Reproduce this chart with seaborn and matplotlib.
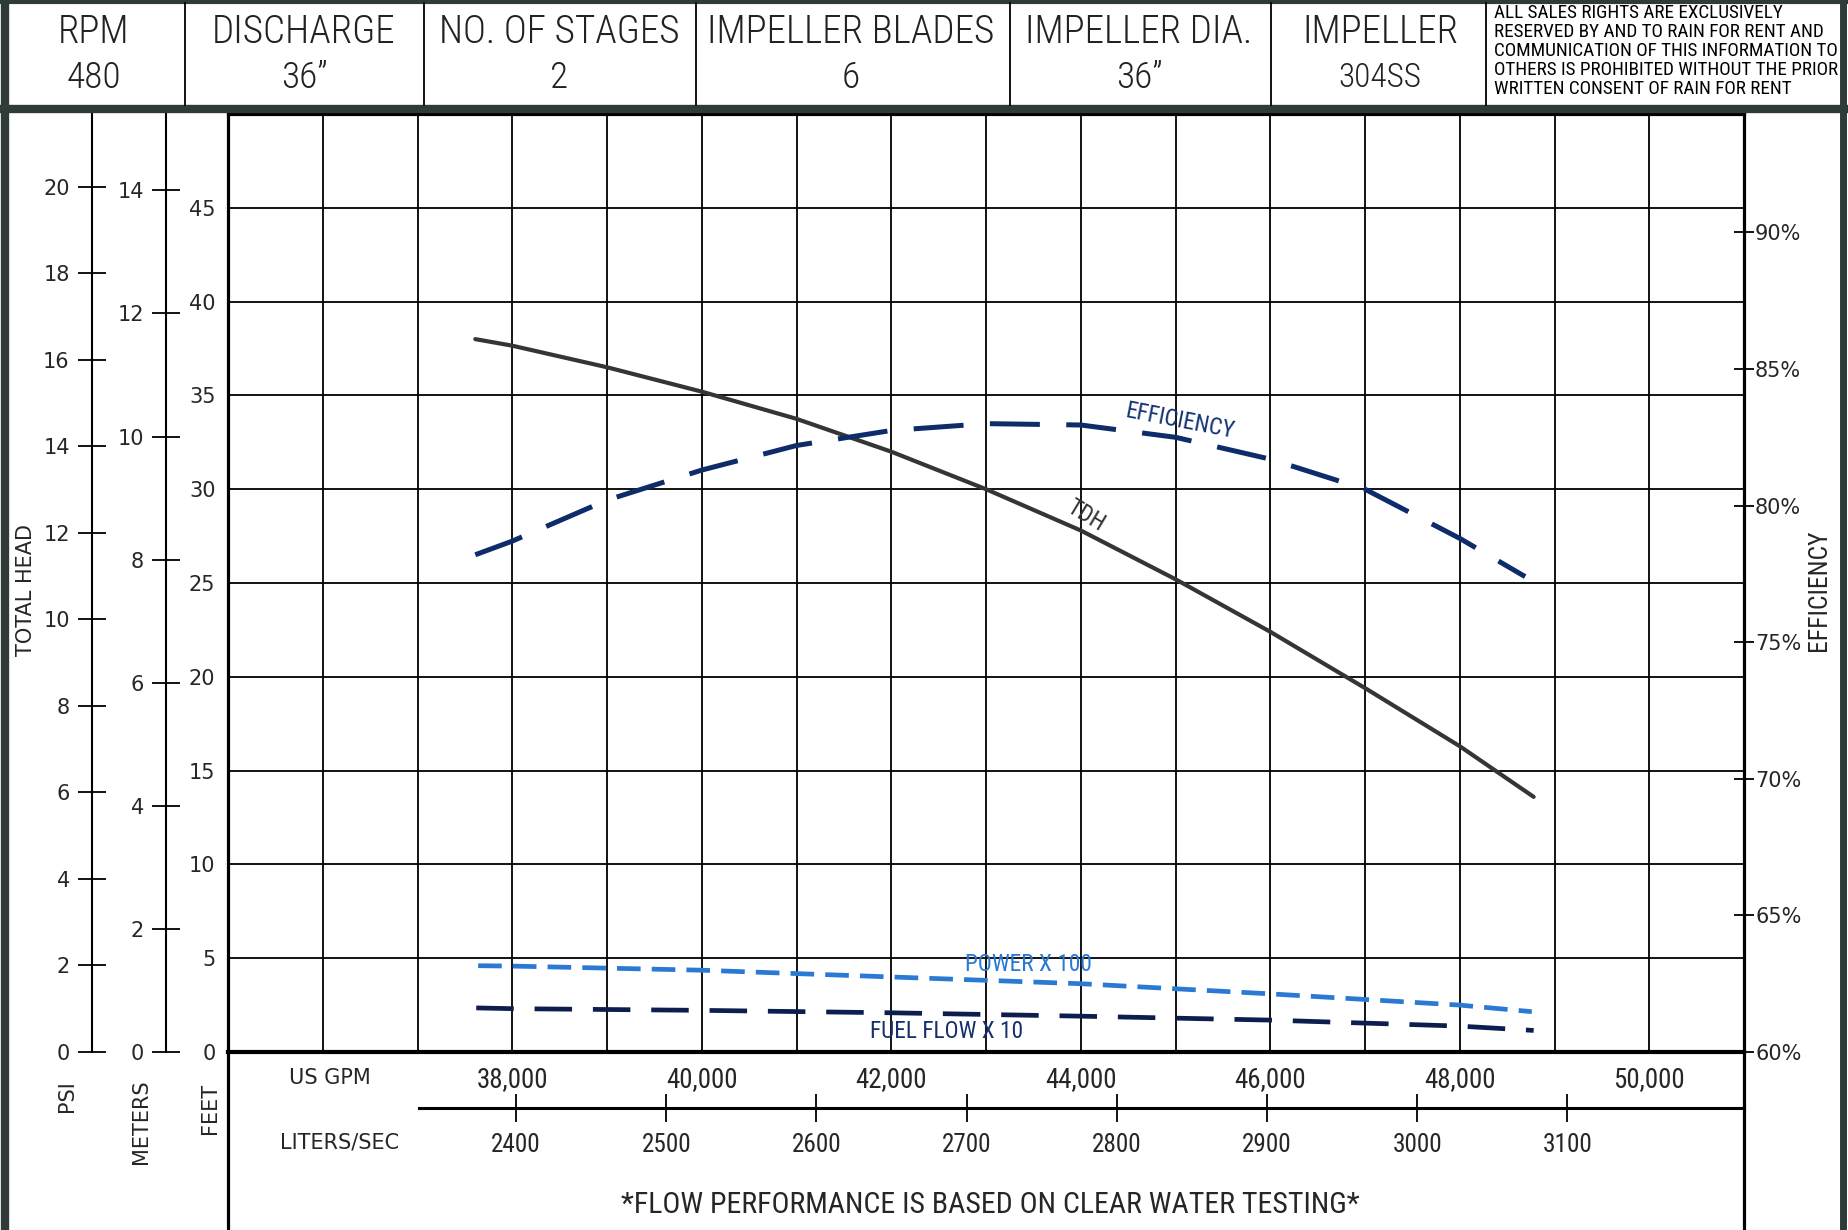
import numpy as np
import pandas as pd
import matplotlib
matplotlib.use("Agg")
import matplotlib.pyplot as plt
from matplotlib import font_manager
from matplotlib.font_manager import FontProperties
from matplotlib.lines import Line2D
import seaborn as sns

W, H = 1849, 1230

# --- header block ---
header_titles = ["RPM", "DISCHARGE", "NO. OF STAGES", "IMPELLER BLADES", "IMPELLER DIA.", "IMPELLER"]
header_values = ["480", "36\u201d", "2", "6", "36\u201d", "304SS"]
notice_lines = [
    "ALL SALES RIGHTS ARE EXCLUSIVELY",
    "RESERVED BY AND TO RAIN FOR RENT AND",
    "COMMUNICATION OF THIS INFORMATION TO",
    "OTHERS IS PROHIBITED WITHOUT THE PRIOR",
    "WRITTEN CONSENT OF RAIN FOR RENT",
]

# --- axes ---
gpm_labels = [38000, 40000, 42000, 44000, 46000, 48000, 50000]
lps_labels = [2400, 2500, 2600, 2700, 2800, 2900, 3000, 3100]
feet_ticks = [0, 5, 10, 15, 20, 25, 30, 35, 40, 45]
psi_ticks = [0, 2, 4, 6, 8, 10, 12, 14, 16, 18, 20]
meter_ticks = [0, 2, 4, 6, 8, 10, 12, 14]
eff_ticks = [60, 65, 70, 75, 80, 85, 90]

GPM_PER_LPS = 15.8503
FT_PER_PSI = 2.3067
FT_PER_M = 3.2808
FT_PER_EFF = 1.4563   # 1 % of the efficiency scale, in feet of chart height

# --- curves ---
tdh_gpm = [37610, 38000, 39000, 40000, 41000, 42000, 43000, 44000, 45000, 46000, 47000, 48000, 48780]
tdh_ft = [38.0, 37.65, 36.5, 35.2, 33.75, 32.0, 30.0, 27.8, 25.2, 22.4, 19.4, 16.3, 13.6]

eff_gpm = [37610, 38000, 39000, 40000, 41000, 42000, 43000, 44000, 45000, 46000, 47000, 48000, 48690]
eff_pct = [78.2, 78.7, 80.2, 81.3, 82.2, 82.75, 83.0, 82.95, 82.5, 81.7, 80.6, 78.8, 77.4]

power_gpm = [37640, 38000, 40000, 42000, 44000, 46000, 48000, 48760]
power_hp = [460, 458, 436, 400, 364, 310, 250, 215]

fuel_gpm = [37620, 38000, 40000, 42000, 44000, 46000, 48000, 48780]
fuel_gph = [23.5, 23.1, 22.2, 20.9, 19.1, 17.0, 13.8, 11.5]

sns.set_theme(style="white")
plt.rcParams["lines.scale_dashes"] = False
plt.rcParams["font.family"] = ["DejaVu Sans"]


def weight_num(w):
    if isinstance(w, (int, float)):
        return w
    return font_manager.weight_dict.get(w, 400)


def is_condensed(f):
    st = f.stretch
    if "Narrow" in f.name or "Condensed" in f.name:
        return True
    if isinstance(st, str):
        return "condensed" in st
    return st < 500


def pick_font(families, weight=400):
    for fam in families:
        c = [f for f in font_manager.fontManager.ttflist
             if f.name == fam and f.style == "normal" and is_condensed(f)]
        if c:
            c.sort(key=lambda f: abs(weight_num(f.weight) - weight))
            return FontProperties(fname=c[0].fname)
    return FontProperties(family="Liberation Sans")


cond_families = ["Liberation Sans Narrow", "Roboto Condensed", "Noto Sans", "Open Sans",
                 "DejaVu Sans", "Noto Sans Display"]
NARROW = pick_font(cond_families, 400)
THIN = pick_font(cond_families, 300)

fig = plt.figure(figsize=(W / 100, H / 100), dpi=100)
fig.patch.set_facecolor("white")
renderer = fig.canvas.get_renderer()


def fx(x):
    return x / W


def fy(y):
    return 1 - y / H


def fp_size(fp, size):
    p = fp.copy()
    p.set_size(size)
    return p


def width_of(s, fp):
    t = fig.text(0, 0, s, fontproperties=fp)
    w = t.get_window_extent(renderer).width
    t.remove()
    return w


def fit(strings, fp, target, base=20.0):
    total = sum(width_of(s, fp_size(fp, base)) for s in strings)
    return base * target / total


def fline(x1, y1, x2, y2, lw, color="black"):
    fig.add_artist(Line2D([fx(x1), fx(x2)], [fy(y1), fy(y2)], transform=fig.transFigure,
                          lw=lw, color=color, solid_capstyle="butt"))


# font sizes fitted to the widths seen in the reference (pixels)
s_head = fit(header_titles, THIN, 1172)
s_notice = fit(["RESERVED BY AND TO RAIN FOR RENT AND"], NARROW, 330)
s_gpm = fit(["38,000"], NARROW, 72)
s_lps = fit(["2400"], NARROW, 50)
s_note = fit(["*FLOW PERFORMANCE IS BASED ON CLEAR WATER TESTING*"], NARROW, 739)
s_effv = fit(["EFFICIENCY"], NARROW, 121)
s_lab = fit(["EFFICIENCY", "POWER X 100", "FUEL FLOW X 10"], NARROW, 111 + 127 + 153)

L, R, T, B = 228, 1744, 114, 1052
ax = fig.add_axes([fx(L), fy(B), (R - L) / W, (B - T) / H])
ax.set_xlim(35000, 51000)
ax.set_ylim(0, 50)
ax.set_xticks(gpm_labels)
ax.set_xticklabels([f"{v:,}" for v in gpm_labels], fontproperties=fp_size(NARROW, s_gpm))
ax.set_xticks(np.arange(35000, 51001, 1000), minor=True)
ax.set_yticks(feet_ticks)
ax.set_yticklabels([str(v) for v in feet_ticks])
ax.grid(which="both", color="black", lw=1.3)
ax.set_axisbelow(True)
ax.tick_params(axis="x", which="both", length=0, pad=10)
ax.tick_params(axis="y", length=0, pad=9, labelsize=15)
for s in ax.spines.values():
    s.set_color("black")
    s.set_linewidth(2.3)
ax.spines["bottom"].set_linewidth(3)

# TDH
sns.lineplot(x=tdh_gpm, y=tdh_ft, ax=ax, color="#353535", linewidth=3.0, sort=False)

# power and fuel flow (drawn at their scaled values)
sns.lineplot(x=power_gpm, y=np.array(power_hp) / 100, ax=ax, color="#2a7ad4", linewidth=3.4,
             linestyle=(0, (17, 8)), sort=False)
sns.lineplot(x=fuel_gpm, y=np.array(fuel_gph) / 10, ax=ax, color="#0c1d4e", linewidth=3.4,
             linestyle=(0, (27, 15)), sort=False)

lab_fp = fp_size(NARROW, s_lab)
ax.text(45042, 33.6, "EFFICIENCY", rotation=-11, rotation_mode="anchor", ha="center", va="center",
        fontproperties=lab_fp, color="#143476")
ax.text(44050, 28.6, "TDH", rotation=-31, rotation_mode="anchor", ha="center", va="center",
        fontproperties=lab_fp, color="#333333")
ax.text(43448, 4.69, "POWER X 100", ha="center", va="center", fontproperties=lab_fp, color="#2a7ad4")
ax.text(42582, 1.07, "FUEL FLOW X 10", ha="center", va="center", fontproperties=lab_fp, color="#16306c")

# efficiency axis
ax_eff = ax.twinx()
ax_eff.set_ylim(60, 60 + 50 / FT_PER_EFF)
sns.lineplot(x=eff_gpm, y=eff_pct, ax=ax_eff, color="#0e2c6a", linewidth=3.6,
             linestyle=(0, (36, 19)), sort=False)
ax_eff.set_yticks(eff_ticks)
ax_eff.set_yticklabels([f"{v}%" for v in eff_ticks])
ax_eff.tick_params(axis="y", right=True, direction="inout", length=14, width=1.3, pad=1,
                   labelsize=15, color="black")
ax_eff.set_ylabel("")
for s in ax_eff.spines.values():
    s.set_visible(False)
ax_eff.grid(False)


def side_axis(xpix, top_val, ticks):
    a = fig.add_axes([fx(xpix), fy(B), 0.0001, (B - T) / H])
    a.patch.set_visible(False)
    a.set_ylim(0, top_val)
    a.set_xticks([])
    a.set_yticks(ticks)
    a.set_yticklabels([str(v) for v in ticks])
    for name in ["top", "right", "bottom"]:
        a.spines[name].set_visible(False)
    a.spines["left"].set_color("black")
    a.spines["left"].set_linewidth(1.5)
    a.tick_params(axis="y", left=True, direction="inout", length=20, width=1.3, pad=6,
                  labelsize=15, color="black")
    a.grid(False)
    return a


side_axis(92, 50 / FT_PER_PSI, psi_ticks)
side_axis(166, 50 / FT_PER_M, meter_ticks)

# liters/sec axis
ax_ls = fig.add_axes([fx(L), fy(1108), (R - L) / W, 0.0001])
ax_ls.patch.set_visible(False)
ax_ls.set_xlim(35000 / GPM_PER_LPS, 51000 / GPM_PER_LPS)
ax_ls.set_yticks([])
ax_ls.set_xticks(lps_labels)
ax_ls.set_xticklabels([str(v) for v in lps_labels], fontproperties=fp_size(NARROW, s_lps))
for name in ["top", "right", "left"]:
    ax_ls.spines[name].set_visible(False)
ax_ls.spines["bottom"].set_linewidth(2.2)
ax_ls.spines["bottom"].set_color("black")
ax_ls.spines["bottom"].set_bounds(37017 / GPM_PER_LPS, 51000 / GPM_PER_LPS)
ax_ls.tick_params(axis="x", bottom=True, direction="inout", length=20, width=1.3, pad=8,
                  color="black")
ax_ls.grid(False)

# frame lines
fline(L, B, L, H, 2.3)
fline(R, B, R, H, 2.3)
fline(5, 0, 5, H, 6, "#2e3b38")
fline(1843, 0, 1843, H, 5, "#2e3b38")
fline(0, 2, W, 2, 3, "#2e3b38")
fline(0, 109, W, 109, 6, "#2e3b38")
for xs in [185, 424, 696, 1010, 1271, 1486]:
    fline(xs, 2, xs, 106, 1.3)

# header text
head_fp = fp_size(THIN, s_head)
for cx, t, v in zip([94, 304, 559, 851, 1139, 1380], header_titles, header_values):
    fig.text(fx(cx), fy(32), t, ha="center", va="center", fontproperties=head_fp, color="#222222")
    vs = s_head * (0.85 if v == "304SS" else 0.95)
    fig.text(fx(cx), fy(78), v, ha="center", va="center", fontproperties=fp_size(THIN, vs),
             color="#222222")
notice_fp = fp_size(NARROW, s_notice)
for i, line in enumerate(notice_lines):
    fig.text(fx(1494), fy(13 + 19 * i), line, ha="left", va="center", fontproperties=notice_fp,
             color="black")

# axis titles
fig.text(fx(26), fy(590), "TOTAL HEAD", rotation=90, ha="center", va="center", fontsize=15)
fig.text(fx(1819), fy(590), "EFFICIENCY", rotation=90, ha="center", va="center",
         fontproperties=fp_size(NARROW, s_effv))
fig.text(fx(67), fy(1096), "PSI", rotation=90, ha="center", va="center", fontsize=15)
fig.text(fx(141), fy(1122), "METERS", rotation=90, ha="center", va="center", fontsize=15)
fig.text(fx(210), fy(1108), "FEET", rotation=90, ha="center", va="center", fontsize=15)
fig.text(fx(330), fy(1078), "US GPM", ha="center", va="center", fontsize=15)
fig.text(fx(340), fy(1142), "LITERS/SEC", ha="center", va="center", fontsize=15)
fig.text(fx(990), fy(1205), "*FLOW PERFORMANCE IS BASED ON CLEAR WATER TESTING*", ha="center",
         va="center", fontproperties=fp_size(NARROW, s_note))

fig.savefig("out.png", dpi=100)
